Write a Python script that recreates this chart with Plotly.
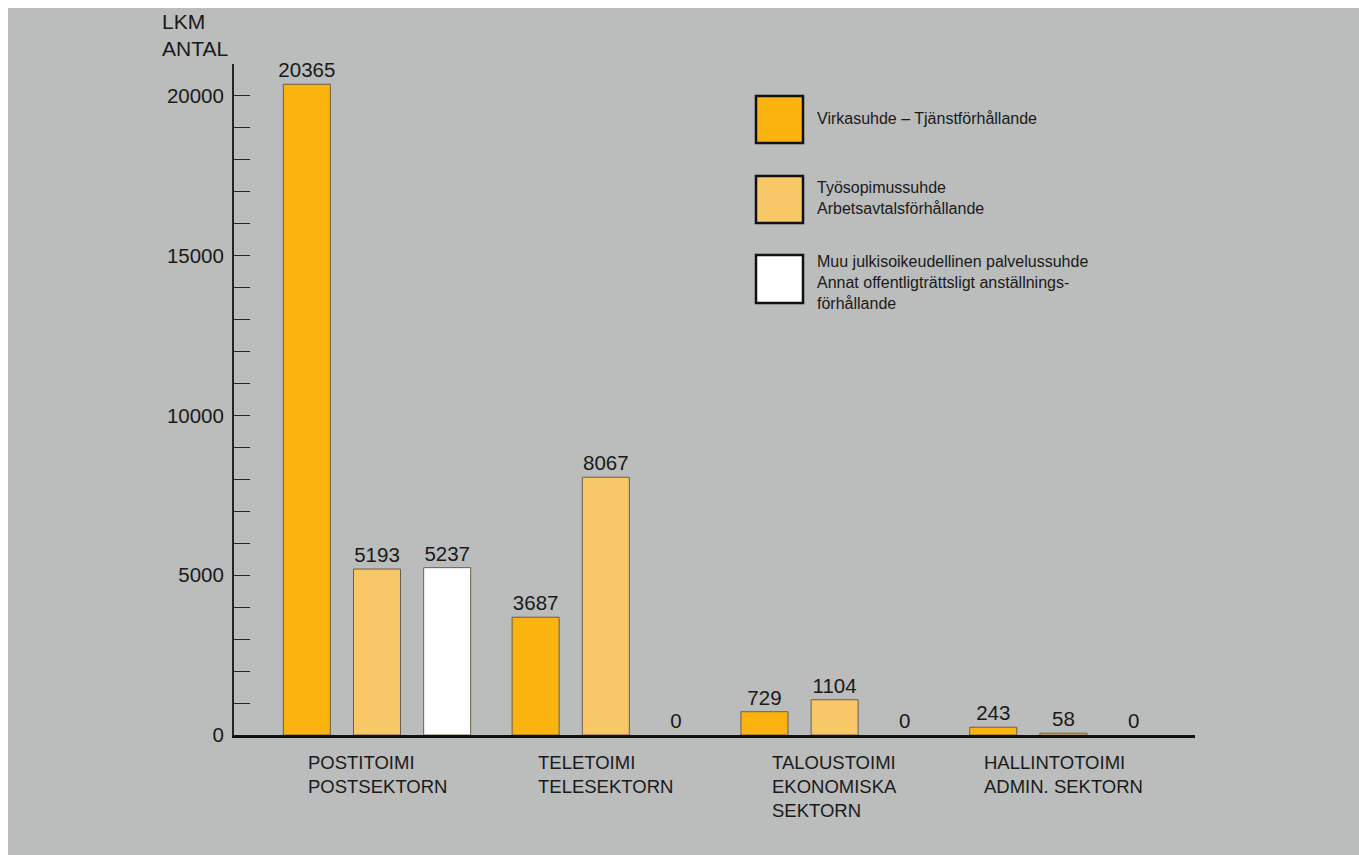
import plotly.graph_objects as go

categories = ["POSTITOIMI<br>POSTSEKTORN", "TELETOIMI<br>TELESEKTORN",
              "TALOUSTOIMI<br>EKONOMISKA<br>SEKTORN", "HALLINTOTOIMI<br>ADMIN. SEKTORN"]
cat_keys = ["posti", "tele", "talous", "hallinto"]
virka = [20365, 3687, 729, 243]
tyosopimus = [5193, 8067, 1104, 58]
muu = [5237, 0, 0, 0]
series_names = ["Virkasuhde – Tjänstförhållande",
                "Työsopimussuhde<br>Arbetsavtalsförhållande",
                "Muu julkisoikeudellinen palvelussuhde<br>Annat offentligträttsligt anställnings-<br>förhållande"]
y_ticks = [0, 5000, 10000, 15000, 20000]

colors = ["#fbb40f", "#f8c768", "#ffffff"]
FONT = "Liberation Sans"
BG = "#bbbcbc"

# plot-area geometry (pixels, reference coordinates)
PX0, PX1, PY0, PY1 = 234, 1195, 64, 735


def px(X):
    return (X - PX0) / (PX1 - PX0)


def py(Y):
    return (PY1 - Y) / (PY1 - PY0)


fig = go.Figure()
for vals, name, col in zip([virka, tyosopimus, muu], series_names, colors):
    fig.add_trace(go.Bar(
        x=cat_keys, y=vals, name=name,
        marker=dict(color=col, line=dict(color="#6a5f48",
                                         width=[1 if v > 0 else 0 for v in vals])),
        text=[str(v) for v in vals], textposition="outside",
        constraintext="none",
        textfont=dict(family=FONT, size=20.5, color="#1a1a1a"),
        cliponaxis=False, showlegend=False,
    ))

fig.update_layout(
    width=1351, height=847,
    paper_bgcolor=BG, plot_bgcolor=BG,
    margin=dict(l=226, r=164, t=56, b=120),
    barmode="group", bargap=0.08, bargroupgap=0.33,
    font=dict(family=FONT, color="#1a1a1a"),
)
fig.update_xaxes(
    type="category", range=[-0.625, 3.575],
    showticklabels=False, ticks="", showgrid=False, zeroline=False,
    showline=True, linecolor="#111111", linewidth=3,
)
fig.update_yaxes(
    range=[0, 21000], tickvals=y_ticks, ticktext=[str(v) for v in y_ticks],
    ticks="inside", ticklen=16, tickwidth=1, tickcolor="#1f2a1f",
    minor=dict(dtick=1000, ticks="inside", ticklen=16, tickwidth=1,
               tickcolor="#1f2a1f", showgrid=False),
    showgrid=False, zeroline=False,
    showline=True, linecolor="#1c2a1c", linewidth=2,
    tickfont=dict(family=FONT, size=20.5, color="#1a1a1a"),
    ticklabelstandoff=4,
)

# Category labels (left-aligned multi-line)
for key, lab in zip(cat_keys, categories):
    fig.add_annotation(x=key, xref="x", y=-0.022, yref="paper", yanchor="top",
                       xanchor="center", align="left", text=lab, showarrow=False,
                       font=dict(family=FONT, size=18.5, color="#1a1a1a"))

# Y axis title
fig.add_annotation(x=px(160), xref="paper", y=py(35), yref="paper",
                   xanchor="left", yanchor="middle", align="left",
                   text="LKM<br>ANTAL", showarrow=False,
                   font=dict(family=FONT, size=21, color="#1a1a1a"))

# Custom legend
legend_boxes = [(96, 143), (176, 223), (255, 303)]
legend_text_y = [118, 198, 282]
for (y0, y1), ty, name, col in zip(legend_boxes, legend_text_y, series_names, colors):
    fig.add_shape(type="rect", xref="paper", yref="paper",
                  x0=px(756), x1=px(803), y0=py(y1), y1=py(y0),
                  fillcolor=col, line=dict(color="#111111", width=2.5))
    fig.add_annotation(x=px(815), xref="paper", y=py(ty), yref="paper",
                       xanchor="left", yanchor="middle", align="left",
                       text=name, showarrow=False,
                       font=dict(family=FONT, size=16, color="#1a1a1a"))

fig.write_html("out.html",
               post_script="document.body.style.overflow='hidden';"
                           "document.body.style.margin='8px 0 0 8px';")
